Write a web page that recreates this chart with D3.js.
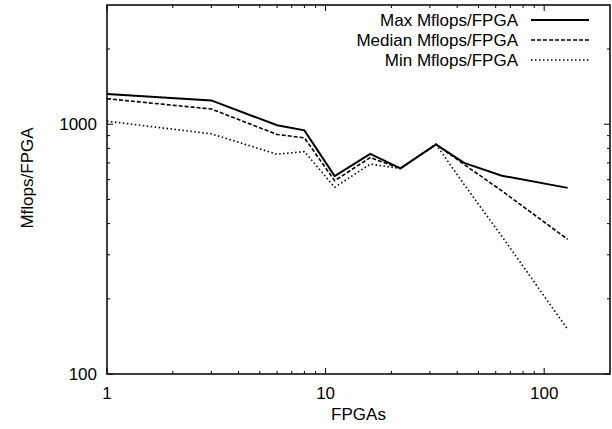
<!DOCTYPE html>
<html>
<head>
<meta charset="utf-8">
<script src="https://cdn.jsdelivr.net/npm/d3@7"></script>
<style>
  body { margin: 0; background: #fff; }
  text { font-family: "Liberation Sans", Arial, sans-serif; fill: #000; }
</style>
</head>
<body>
<svg id="chart"></svg>
<script>
var fpgas = [1, 3, 6, 8, 11, 16, 22, 32, 43, 64, 128];
var maxMflops = [1320, 1245, 990, 945, 620, 760, 665, 830, 700, 622, 556];
var medianMflops = [1265, 1150, 910, 882, 594, 735, 665, 830, 690, 541, 346];
var minMflops = [1028, 915, 758, 777, 559, 692, 665, 830, 574, 356, 151];

var seriesNames = ['Max Mflops/FPGA', 'Median Mflops/FPGA', 'Min Mflops/FPGA'];
var xTickLabels = [1, 10, 100];
var yTickLabels = [100, 1000];

var width = 612, height = 429;
var margin = { top: 5, right: 2, bottom: 55, left: 107 };

var svg = d3.select('#chart')
   .attr('width', width)
   .attr('height', height);

var x = d3.scaleLog()
   .domain([1, 200])
   .range([margin.left, width - margin.right]);

var y = d3.scaleLog()
   .domain([100, 3000])
   .range([height - margin.bottom, margin.top]);

var x0 = margin.left, x1 = width - margin.right;
var y0 = height - margin.bottom, y1 = margin.top;

// minor / major ticks, drawn inward on all four sides
var xMinor = [];
[1, 10, 100].forEach(function (d) {
   for (var i = 2; i <= 9; i++) if (d * i < 200) xMinor.push(d * i);
});
var yMinor = [];
[100, 1000].forEach(function (d) {
   for (var i = 2; i <= 9; i++) if (d * i < 3000) yMinor.push(d * i);
});

var ticks = svg.append('g')
   .attr('stroke', '#000')
   .attr('stroke-width', 1);

function xTick(v, len) {
   ticks.append('line').attr('x1', x(v)).attr('x2', x(v)).attr('y1', y0).attr('y2', y0 - len);
   ticks.append('line').attr('x1', x(v)).attr('x2', x(v)).attr('y1', y1).attr('y2', y1 + len);
}
function yTick(v, len) {
   ticks.append('line').attr('y1', y(v)).attr('y2', y(v)).attr('x1', x0).attr('x2', x0 + len);
   ticks.append('line').attr('y1', y(v)).attr('y2', y(v)).attr('x1', x1).attr('x2', x1 - len);
}
xMinor.forEach(function (v) { xTick(v, 3); });
xTickLabels.forEach(function (v) { xTick(v, 6); });
yMinor.forEach(function (v) { yTick(v, 3); });
yTickLabels.forEach(function (v) { yTick(v, 6); });

// tick labels
svg.append('g').selectAll('text')
   .data(xTickLabels)
   .enter()
   .append('text')
   .attr('x', function (d) { return x(d); })
   .attr('y', y0 + 25)
   .attr('text-anchor', 'middle')
   .attr('font-size', 17)
   .text(function (d) { return d; });

svg.append('g').selectAll('text')
   .data(yTickLabels)
   .enter()
   .append('text')
   .attr('x', x0 - 10)
   .attr('y', function (d) { return y(d); })
   .attr('dy', '0.35em')
   .attr('text-anchor', 'end')
   .attr('font-size', 17)
   .text(function (d) { return d; });

// axis titles
svg.append('text')
   .attr('x', (x0 + x1) / 2)
   .attr('y', 420)
   .attr('text-anchor', 'middle')
   .attr('font-size', 17)
   .text('FPGAs');

svg.append('text')
   .attr('transform', 'translate(33,178) rotate(-90)')
   .attr('text-anchor', 'middle')
   .attr('font-size', 17)
   .text('Mflops/FPGA');

// series
var series = [
   { name: seriesNames[0], values: maxMflops, dash: null, w: 2 },
   { name: seriesNames[1], values: medianMflops, dash: '4,2', w: 1.6 },
   { name: seriesNames[2], values: minMflops, dash: '1.5,2.5', w: 1.6 }
];

var line = d3.line()
   .x(function (d) { return x(d[0]); })
   .y(function (d) { return y(d[1]); });

svg.append('g').selectAll('path')
   .data(series)
   .enter()
   .append('path')
   .attr('fill', 'none')
   .attr('stroke', '#000')
   .attr('stroke-width', function (d) { return d.w; })
   .attr('stroke-dasharray', function (d) { return d.dash; })
   .attr('d', function (d) { return line(d3.zip(fpgas, d.values)); });

// legend
var legend = svg.append('g');
series.forEach(function (s, i) {
   var ly = 20 + i * 20;
   legend.append('text')
      .attr('x', 518)
      .attr('y', ly)
      .attr('dy', '0.35em')
      .attr('text-anchor', 'end')
      .attr('font-size', 17)
      .text(s.name);
   legend.append('line')
      .attr('x1', 531).attr('x2', 589)
      .attr('y1', ly).attr('y2', ly)
      .attr('stroke', '#000')
      .attr('stroke-width', s.w)
      .attr('stroke-dasharray', s.dash);
});

// frame
svg.append('rect')
   .attr('x', x0)
   .attr('y', y1)
   .attr('width', x1 - x0)
   .attr('height', y0 - y1)
   .attr('fill', 'none')
   .attr('stroke', '#000')
   .attr('stroke-width', 1.5);
</script>
</body>
</html>
